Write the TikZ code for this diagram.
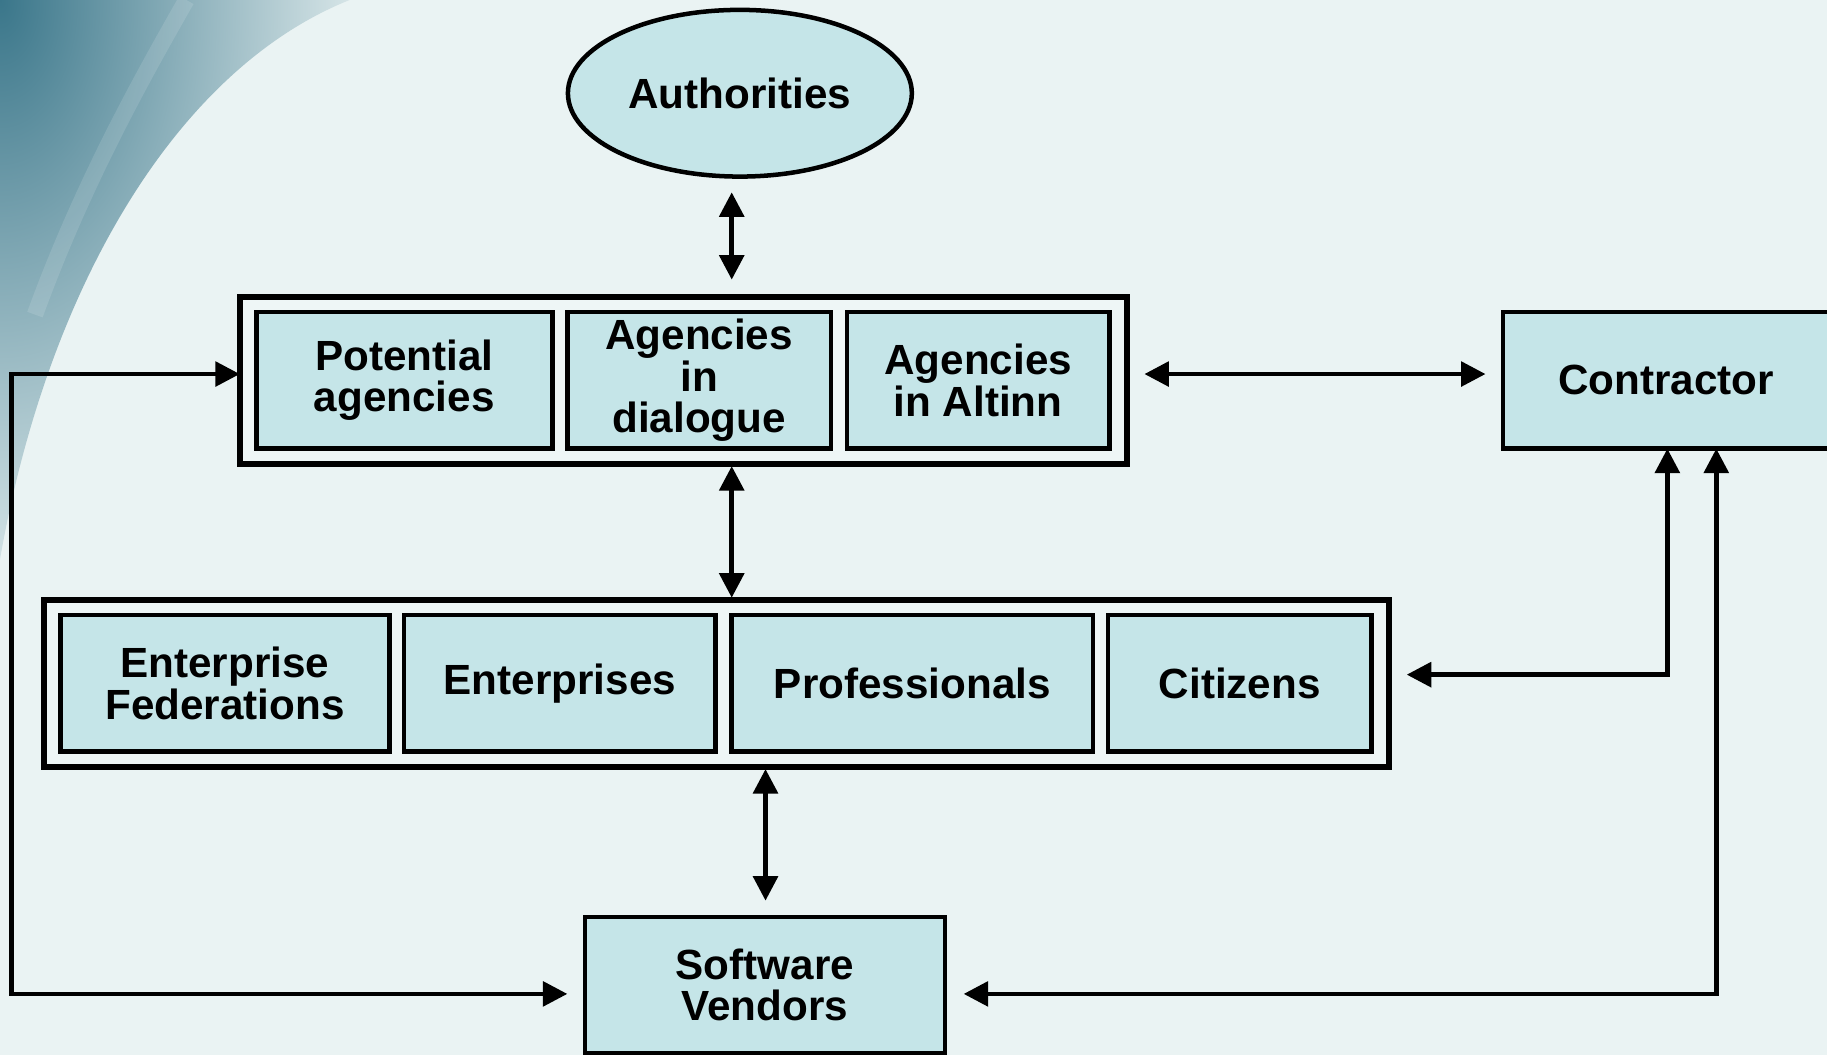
\documentclass[tikz,border=0pt]{standalone}
\usepackage{fontspec}
\setmainfont{Liberation Sans}
\usepackage{tikz}
\usetikzlibrary{arrows.meta,shapes.geometric}
\definecolor{bgcol}{RGB}{234,243,243}
\definecolor{framecol}{RGB}{238,246,246}
\definecolor{boxcol}{RGB}{197,229,232}
\definecolor{cornercol}{RGB}{58,118,138}
\tikzset{>={Triangle[length=2.1mm,width=2.1mm]}}
\tikzset{
  every node/.style={font=\bfseries\fontsize{10.3}{10.1}\selectfont, align=center, outer sep=0pt, inner sep=0pt},
  groupbox/.style={draw, line width=1.4pt, fill=framecol, minimum height=1.43cm},
  unitbox/.style={draw, line width=1.1pt, fill=boxcol, minimum height=1.17cm},
  link/.style={line width=1.1pt, <->}
}

\begin{document}
\begin{tikzpicture}[x=0.01cm,y=-0.01cm]
    \useasboundingbox (0,0) rectangle (1568,905);
    \fill[bgcol] (0,0) rectangle (1568,905);
    % corner swoosh
    \begin{scope}
      \clip (0,0) -- (300,0) .. controls (150,60) and (40,250) .. (0,480) -- cycle;
      \shade[inner color=cornercol, outer color=bgcol] (0,0) ellipse (3.4cm and 5.6cm);
    \end{scope}
    \draw[white, opacity=0.12, line width=4pt] (160,0) .. controls (120,70) and (70,160) .. (30,270);

    \node[ellipse, draw, line width=1.1pt, fill=boxcol, minimum width=2.95cm, minimum height=1.43cm] (auth) at (635,80) {Authorities};

    % agencies
    \node[groupbox, minimum width=7.61cm] (agencies) at (586.5,326.5) {};
    \node[unitbox, minimum width=2.54cm] (potential) at (347,326.5) {Potential\\agencies};
    \node[unitbox, minimum width=2.26cm] (dialogue) at (600,326.5) {Agencies\\in\\dialogue};
    \node[unitbox, minimum width=2.25cm] (altinn) at (839.5,326.5) {Agencies\\in Altinn};

    \node[unitbox, minimum width=2.80cm] (contractor) at (1430,326.5) {Contractor};

    % users
    \node[groupbox, minimum width=11.54cm] (users) at (615,586.5) {};
    \node[unitbox, minimum width=2.82cm] (federations) at (193,586.5) {Enterprise\\Federations};
    \node[unitbox, minimum width=2.67cm] (enterprises) at (480.5,586.5) {Enterprises};
    \node[unitbox, minimum width=3.10cm] (professionals) at (783,586.5) {Professionals};
    \node[unitbox, minimum width=2.26cm] (citizens) at (1064,586.5) {Citizens};

    \node[unitbox, minimum width=3.09cm] (vendors) at (656.5,845.5) {Software\\Vendors};

    \coordinate (ax) at (628,0);
    \coordinate (bx) at (657,0);
    \coordinate (cx) at (1431,0);
    \coordinate (dx) at (1473,0);
    \coordinate (lx) at (10,0);
    \coordinate (ty) at (0,321);
    \coordinate (uy) at (0,579);
    \coordinate (vy) at (0,853);

    \draw[link, shorten <=0.135cm, shorten >=0.15cm] (auth.south -| ax) -- (agencies.north -| ax);
    \draw[link, shorten <=0.02cm, shorten >=0.02cm] (agencies.south -| ax) -- (users.north -| ax);
    \draw[link, shorten <=0.02cm, shorten >=0.14cm] (users.south -| bx) -- (vendors.north -| bx);
    \draw[link, shorten <=0.15cm, shorten >=0.15cm] (agencies.east |- ty) -- (contractor.west |- ty);

    \draw[link, shorten >=0.15cm] (agencies.west |- ty) -- (lx |- ty) |- (vendors.west |- vy);
    \draw[link, shorten >=0.15cm] (contractor.south -| cx) |- (users.east |- uy);
    \draw[link, shorten >=0.16cm] (contractor.south -| dx) |- (vendors.east |- vy);
\end{tikzpicture}
\end{document}
